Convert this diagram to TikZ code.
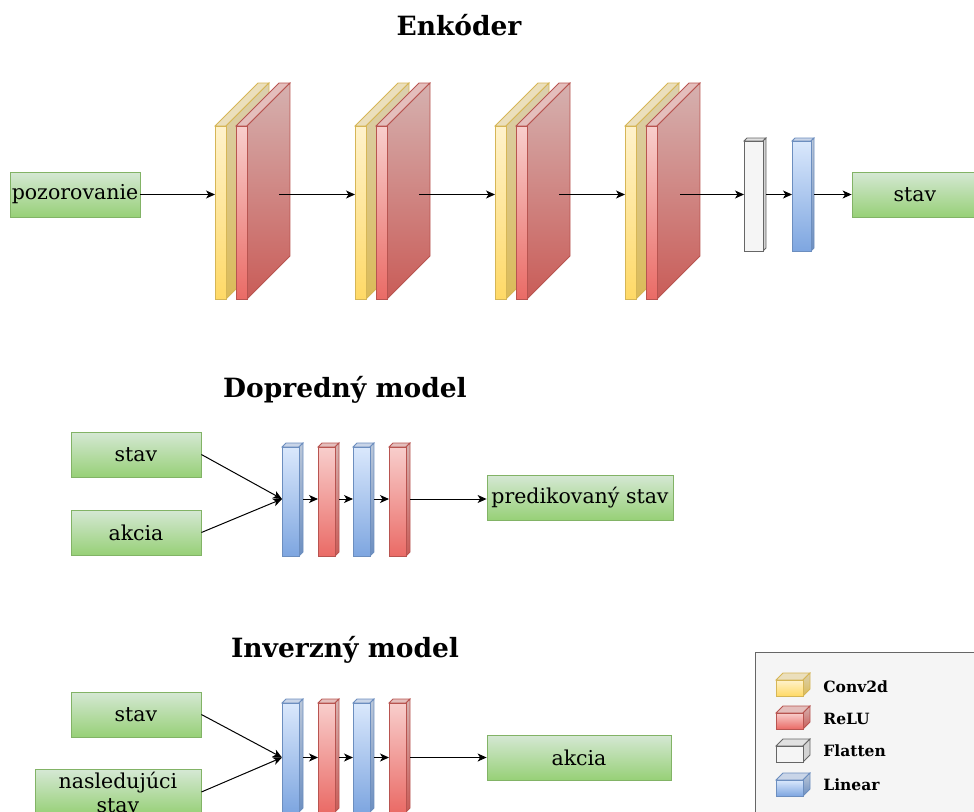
\documentclass[tikz,border=0pt]{standalone}
\usepackage{fontspec}
\setmainfont{DejaVu Serif}
\usetikzlibrary{arrows.meta,calc}

% layer colours: A/B front gradient, L outline, S1/S2 side gradient, T top face
\definecolor{yA}{HTML}{FFF2CC}\definecolor{yB}{HTML}{FFD966}\definecolor{yL}{HTML}{D6B656}
\definecolor{rA}{HTML}{F8CECC}\definecolor{rB}{HTML}{EA6B66}\definecolor{rL}{HTML}{B85450}
\definecolor{bA}{HTML}{DAE8FC}\definecolor{bB}{HTML}{7EA6E0}\definecolor{bL}{HTML}{6C8EBF}
\definecolor{wA}{HTML}{F5F5F5}\definecolor{wB}{HTML}{F5F5F5}\definecolor{wL}{HTML}{666666}
\definecolor{GA}{HTML}{D5E8D4}\definecolor{GB}{HTML}{97D077}\definecolor{GL}{HTML}{82B366}
\definecolor{legendbg}{HTML}{F5F5F5}
\colorlet{yS1}{yA!86!black}\colorlet{yS2}{yB!86!black}\colorlet{yT}{yA!92!black}
\colorlet{rS1}{rA!86!black}\colorlet{rS2}{rB!86!black}\colorlet{rT}{rA!92!black}
\colorlet{bS1}{bA!86!black}\colorlet{bS2}{bB!86!black}\colorlet{bT}{bA!92!black}
\colorlet{wS1}{wA!86!black}\colorlet{wS2}{wB!86!black}\colorlet{wT}{wA!92!black}

% a box-shaped layer: name, x, y (top of front face), width, height, depth, colour prefix
\newcommand{\layerbox}[7]{%
  \filldraw[fill=#7T, draw=#7L] (#2,#3) -- ++(#6,-#6) -- ++(#4,0) -- ++(-#6,#6) -- cycle;
  \shade[top color=#7S1, bottom color=#7S2, draw=#7L] (#2+#4,#3) -- ++(#6,-#6) -- ++(0,#5) -- ++(-#6,#6) -- cycle;
  \node[layerface, draw=#7L, top color=#7A, bottom color=#7B,
        minimum width=#4, minimum height=#5] (#1) at (#2,#3) {};
}

\tikzset{
  layerface/.style={rectangle, anchor=north west, inner sep=0pt, outer sep=0pt},
  databox/.style={rectangle, draw=GL, top color=GA, bottom color=GB, line width=0.8pt,
    inner sep=0pt, minimum height=45, font=\fontsize{20.5}{24}\selectfont, align=center},
  title/.style={font=\bfseries\fontsize{26.5}{30}\selectfont},
  legendtext/.style={anchor=base west, inner sep=0pt, font=\bfseries\fontsize{15.5}{18}\selectfont},
  arr/.style={line width=1pt, -{Stealth[length=9pt,width=8pt,inset=2.5pt]}},
}

\begin{document}
\begin{tikzpicture}[x=1pt,y=-1pt,line width=0.8pt]
\useasboundingbox (0,0) rectangle (974,811);

% ---------------- encoder ----------------
\node[title] (tenc) at (459,25) {Enkóder};
\node[databox, minimum width=130] (obs) at (75,194.5) {pozorovanie};

\layerbox{y1}{215}{126}{11}{173}{43}{y}
\layerbox{r1}{236}{126}{11}{173}{43}{r}
\layerbox{y2}{355}{126}{11}{173}{43}{y}
\layerbox{r2}{376}{126}{11}{173}{43}{r}
\layerbox{y3}{495}{126}{11}{173}{43}{y}
\layerbox{r3}{516}{126}{11}{173}{43}{r}
\layerbox{y4}{625}{126}{11}{173}{43}{y}
\layerbox{r4}{646}{126}{11}{173}{43}{r}
\layerbox{fl}{744}{141}{19}{110}{3}{w}
\layerbox{li}{792}{141}{19}{110}{3}{b}

\node[databox, minimum width=126] (enc) at (915,194.5) {stav};

\coordinate (r1o) at ($(r1.east |- obs.east)+(32,0)$);
\coordinate (r2o) at ($(r2.east |- obs.east)+(32,0)$);
\coordinate (r3o) at ($(r3.east |- obs.east)+(32,0)$);
\coordinate (r4o) at ($(r4.east |- obs.east)+(23,0)$);
\coordinate (flo) at ($(fl.east |- obs.east)+(3,0)$);
\coordinate (lio) at ($(li.east |- obs.east)+(3,0)$);

\draw[arr] (obs.east) -- (obs.east -| y1.west);
\draw[arr] (r1o) -- (r1o -| y2.west);
\draw[arr] (r2o) -- (r2o -| y3.west);
\draw[arr] (r3o) -- (r3o -| y4.west);
\draw[arr] (r4o) -- (r4o -| fl.west);
\draw[arr] (flo) -- (flo -| li.west);
\draw[arr] (lio) -- (enc.west);

% ---------------- forward model ----------------
\node[title] (tfwd) at (345,390) {Dopredný model};
\node[databox, minimum width=130] (fs) at (136,454.5) {stav};
\node[databox, minimum width=130] (fa) at (136,532.5) {akcia};

\layerbox{f1}{282}{447}{17}{109}{4}{b}
\layerbox{f2}{318}{447}{17}{109}{4}{r}
\layerbox{f3}{353}{447}{17}{109}{4}{b}
\layerbox{f4}{389}{447}{17}{109}{4}{r}

\node[databox, minimum width=186] (fp) at (580,497.5) {predikovaný stav};

\coordinate (fhub) at ($(f1.west)+(0,-2.5)$);
\coordinate (f1o) at ($(f1.east |- fhub)+(4,0)$);
\coordinate (f2o) at ($(f2.east |- fhub)+(4,0)$);
\coordinate (f3o) at ($(f3.east |- fhub)+(4,0)$);
\coordinate (f4o) at ($(f4.east |- fhub)+(4,0)$);

\draw[arr] (fs.east) -- (fhub);
\draw[arr] (fa.east) -- (fhub);
\draw[arr] (f1o) -- (f1o -| f2.west);
\draw[arr] (f2o) -- (f2o -| f3.west);
\draw[arr] (f3o) -- (f3o -| f4.west);
\draw[arr] (f4o) -- (f4o -| fp.west);

% ---------------- inverse model ----------------
\node[title] (tinv) at (345,650) {Inverzný model};
\node[databox, minimum width=130] (is) at (136,714.5) {stav};
\node[databox, minimum width=166, inner ysep=0pt] (in) at (118,792) {nasledujúci\\stav};

\layerbox{i1}{282}{703}{17}{109}{4}{b}
\layerbox{i2}{318}{703}{17}{109}{4}{r}
\layerbox{i3}{353}{703}{17}{109}{4}{b}
\layerbox{i4}{389}{703}{17}{109}{4}{r}

\node[databox, minimum width=184] (ia) at (579,757.5) {akcia};

\coordinate (ihub) at ($(i1.west |- ia.west)$);
\coordinate (i1o) at ($(i1.east |- ihub)+(4,0)$);
\coordinate (i2o) at ($(i2.east |- ihub)+(4,0)$);
\coordinate (i3o) at ($(i3.east |- ihub)+(4,0)$);
\coordinate (i4o) at ($(i4.east |- ihub)+(4,0)$);

\draw[arr] (is.east) -- (ihub);
\draw[arr] (in.east) -- (ihub);
\draw[arr] (i1o) -- (i1o -| i2.west);
\draw[arr] (i2o) -- (i2o -| i3.west);
\draw[arr] (i3o) -- (i3o -| i4.west);
\draw[arr] (i4o) -- (ia.west);

% ---------------- legend ----------------
\node[rectangle, draw=wL, fill=legendbg, line width=0.8pt, anchor=north west,
      minimum width=240, minimum height=180, inner sep=0pt] (legend) at (755,652) {};
\layerbox{lg1}{776}{680}{27}{16}{7}{y}
\layerbox{lg2}{776}{713}{27}{16}{7}{r}
\layerbox{lg3}{776}{746}{27}{16}{7}{w}
\layerbox{lg4}{776}{780}{27}{16}{7}{b}
\node[legendtext] (lt1) at (823,692.5) {Conv2d};
\node[legendtext] (lt2) at (823,724) {ReLU};
\node[legendtext] (lt3) at (823,756.5) {Flatten};
\node[legendtext] (lt4) at (823,790.5) {Linear};
\end{tikzpicture}
\end{document}
